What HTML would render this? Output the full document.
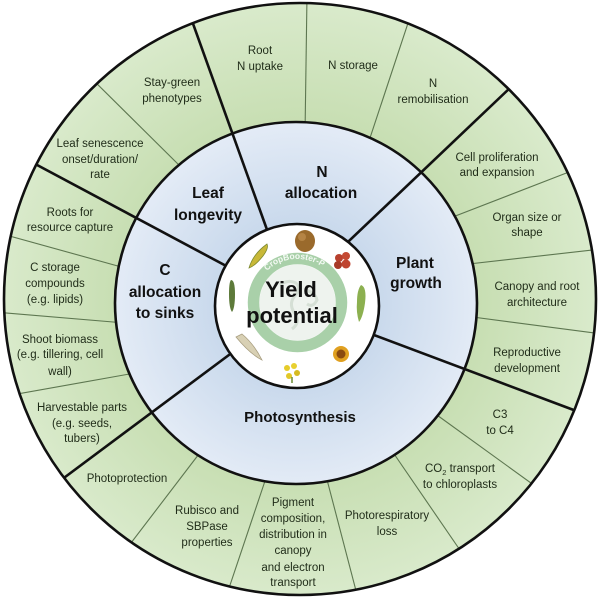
<!DOCTYPE html>
<html><head><meta charset="utf-8"><style>
html,body{margin:0;padding:0;background:#fff;}
svg{display:block;}
.o{font-family:"Liberation Sans",sans-serif;font-size:11.5px;fill:#1f2b18;text-anchor:middle;}
.i{font-family:"Liberation Sans",sans-serif;font-size:15.5px;font-weight:bold;fill:#111;text-anchor:middle;}
</style></head><body>
<svg width="600" height="600" viewBox="0 0 600 600" xmlns="http://www.w3.org/2000/svg">
<defs>
<radialGradient id="gg" cx="298" cy="301" r="296" gradientUnits="userSpaceOnUse">
<stop offset="0.6" stop-color="#c7deb2"/><stop offset="1" stop-color="#d9eacb"/>
</radialGradient>
<radialGradient id="bg" cx="297" cy="305" r="181" gradientUnits="userSpaceOnUse">
<stop offset="0.45" stop-color="#c9d9ec"/><stop offset="1" stop-color="#e3ebf6"/>
</radialGradient>
<clipPath id="oc"><circle cx="300" cy="299" r="296"/></clipPath>
<path id="arc" d="M 253 306 A 44 44 0 0 1 341 300"/>
</defs>
<circle cx="300" cy="299" r="296" fill="url(#gg)"/>
<g clip-path="url(#oc)" stroke="#5d7650" stroke-width="1.1">
<line x1="187" y1="173" x2="80" y2="67"/>
<line x1="305" y1="135" x2="307" y2="-5"/>
<line x1="366" y1="150" x2="414" y2="5"/>
<line x1="445" y1="220" x2="600" y2="160"/>
<line x1="460" y1="265" x2="610" y2="248"/>
<line x1="465" y1="316" x2="610" y2="335"/>
<line x1="430" y1="410" x2="560" y2="504"/>
<line x1="390" y1="448" x2="475" y2="572"/>
<line x1="325" y1="472" x2="360" y2="606"/>
<line x1="267" y1="475" x2="224" y2="603"/>
<line x1="202" y1="450" x2="118" y2="560"/>
<line x1="125" y1="268" x2="-5" y2="232"/>
<line x1="125" y1="323" x2="-5" y2="312"/>
<line x1="135" y1="373" x2="-5" y2="398"/>
</g>
<circle cx="296" cy="303" r="181" fill="url(#bg)"/>
<g clip-path="url(#oc)" stroke="#111" stroke-width="2.6">
<line x1="275" y1="252" x2="182" y2="-7"/>
<line x1="330" y1="259" x2="532" y2="67"/>
<line x1="350" y1="326" x2="603" y2="421"/>
<line x1="245" y1="343" x2="41" y2="495"/>
<line x1="245" y1="276" x2="9" y2="150"/>
</g>
<circle cx="296" cy="303" r="181" fill="none" stroke="#111" stroke-width="2.6"/>
<circle cx="300" cy="299" r="296" fill="none" stroke="#111" stroke-width="2.6"/>
<circle cx="297" cy="306" r="82" fill="#fff" stroke="#111" stroke-width="2.6"/>
<!-- logo ring -->
<circle cx="297.5" cy="302.5" r="38" fill="#eef3ee"/>
<path d="M280 285 q8 -6 16 -2 q6 6 -2 14 q-6 8 2 18 q4 8 -4 14 M305 290 q10 2 12 10 q-4 8 -10 4" fill="none" stroke="#d5dfd5" stroke-width="3"/>
<circle cx="297.5" cy="302.5" r="44" fill="none" stroke="#a9d0a9" stroke-width="11.5"/>
<text font-family="Liberation Sans,sans-serif" font-size="8.5" font-weight="bold" fill="#f4faf4"><textPath href="#arc" startOffset="50%" text-anchor="middle">CropBooster-P</textPath></text>
<!-- food icons -->
<ellipse cx="305" cy="241" rx="10" ry="11" fill="#9a6a2c"/>
<ellipse cx="302" cy="237" rx="4" ry="4" fill="#c09050" opacity="0.7"/>
<circle cx="339" cy="258" r="4" fill="#b8412e"/><circle cx="346" cy="256" r="4" fill="#c44a33"/>
<circle cx="338" cy="265" r="4" fill="#a83a28"/><circle cx="346" cy="264" r="4.5" fill="#bf4430"/>
<path d="M361 285 q6 2 4 18 q-2 14 -6 19 q-3 -10 -2 -20 q0 -12 4 -17z" fill="#8cb050"/>
<circle cx="341" cy="354" r="8" fill="#e0a020"/><circle cx="341" cy="354" r="4.5" fill="#8a4a10"/>
<circle cx="287" cy="368" r="3" fill="#e6cc2a"/><circle cx="294" cy="366" r="3" fill="#e8d030"/>
<circle cx="297" cy="373" r="3" fill="#d6bb20"/><circle cx="289" cy="376" r="3" fill="#e2c828"/>
<path d="M292 377 l0 6" stroke="#6b8a30" stroke-width="1.5"/>
<path d="M236 337 l6 -3 q12 10 20 26 q-12 -6 -26 -23z" fill="#d8d0b4" stroke="#a89e80" stroke-width="0.8"/>
<path d="M231 280 q4 0 4 14 q0 14 -3 18 q-3 -4 -3 -18 q0 -12 2 -14z" fill="#5d7a3a"/>
<path d="M249 268 q4 -14 18 -24 q2 4 -4 12 q-8 10 -14 12z" fill="#c8b838" stroke="#7d8a30" stroke-width="0.8"/>
<text x="291" y="297" font-family="Liberation Sans,sans-serif" font-size="22" font-weight="bold" fill="#111" text-anchor="middle">Yield</text>
<text x="292" y="323" font-family="Liberation Sans,sans-serif" font-size="22" font-weight="bold" fill="#111" text-anchor="middle">potential</text>
<!-- inner labels -->
<text class="i" x="208" y="198">Leaf</text><text class="i" x="208" y="220">longevity</text>
<text class="i" x="322" y="177">N</text><text class="i" x="321" y="198">allocation</text>
<text class="i" x="415" y="268">Plant</text><text class="i" x="416" y="288">growth</text>
<text class="i" x="300" y="422" style="font-size:15px">Photosynthesis</text>
<text class="i" x="165" y="275">C</text><text class="i" x="165" y="297">allocation</text><text class="i" x="165" y="318">to sinks</text>
<!-- outer labels -->
<text class="o" x="260" y="54">Root</text><text class="o" x="260" y="70">N uptake</text>
<text class="o" x="353" y="69">N storage</text>
<text class="o" x="433" y="87">N</text><text class="o" x="433" y="103">remobilisation</text>
<text class="o" x="172" y="86">Stay-green</text><text class="o" x="172" y="102">phenotypes</text>
<text class="o" x="100" y="147">Leaf senescence</text><text class="o" x="100" y="163">onset/duration/</text><text class="o" x="100" y="178">rate</text>
<text class="o" x="497" y="161">Cell proliferation</text><text class="o" x="497" y="176">and expansion</text>
<text class="o" x="527" y="221">Organ size or</text><text class="o" x="527" y="236">shape</text>
<text class="o" x="537" y="290">Canopy and root</text><text class="o" x="537" y="306">architecture</text>
<text class="o" x="527" y="356">Reproductive</text><text class="o" x="527" y="372">development</text>
<text class="o" x="500" y="418">C3</text><text class="o" x="500" y="434">to C4</text>
<text class="o" x="460" y="472">CO<tspan font-size="7.5" dy="3">2</tspan><tspan dy="-3"> transport</tspan></text><text class="o" x="460" y="488">to chloroplasts</text>
<text class="o" x="387" y="519">Photorespiratory</text><text class="o" x="387" y="535">loss</text>
<text class="o" x="293" y="506">Pigment</text><text class="o" x="293" y="522">composition,</text><text class="o" x="293" y="538">distribution in</text><text class="o" x="293" y="554">canopy</text><text class="o" x="293" y="571">and electron</text><text class="o" x="293" y="586">transport</text>
<text class="o" x="207" y="514">Rubisco and</text><text class="o" x="207" y="530">SBPase</text><text class="o" x="207" y="546">properties</text>
<text class="o" x="127" y="482">Photoprotection</text>
<text class="o" x="82" y="411">Harvestable parts</text><text class="o" x="82" y="427">(e.g. seeds,</text><text class="o" x="82" y="442">tubers)</text>
<text class="o" x="60" y="343">Shoot biomass</text><text class="o" x="60" y="358">(e.g. tillering, cell</text><text class="o" x="60" y="375">wall)</text>
<text class="o" x="55" y="271">C storage</text><text class="o" x="55" y="287">compounds</text><text class="o" x="55" y="303">(e.g. lipids)</text>
<text class="o" x="70" y="216">Roots for</text><text class="o" x="70" y="231">resource capture</text>
</svg>
</body></html>
